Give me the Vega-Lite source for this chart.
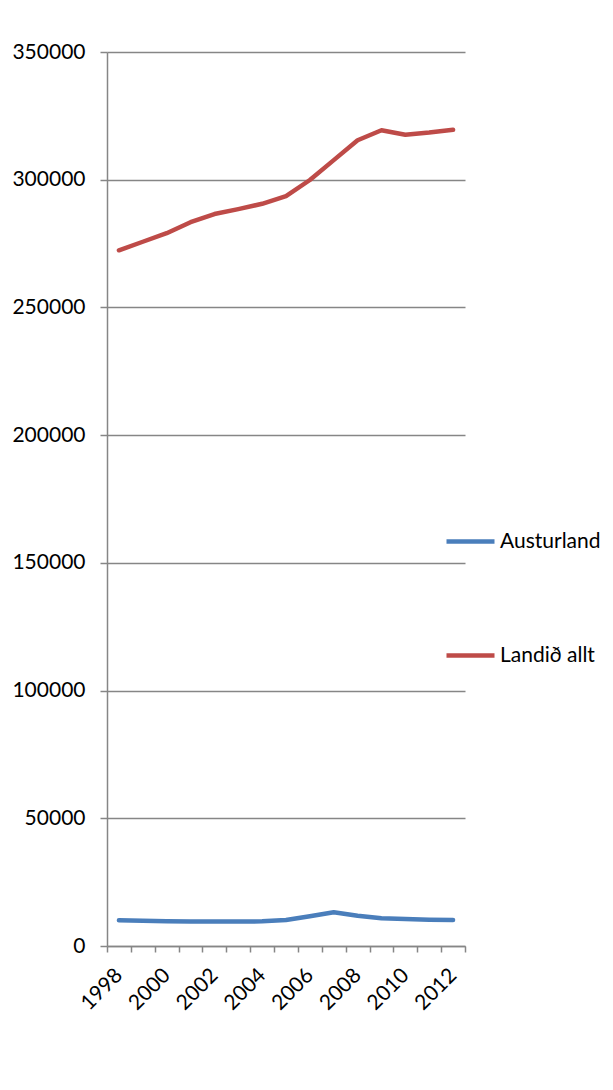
{
  "$schema": "https://vega.github.io/schema/vega-lite/v6.json",
  "autosize": {"type": "none"},
  "padding": {"left": 107, "top": 52, "right": 148, "bottom": 144},
  "width": 358,
  "height": 894,
  "background": "white",
  "config": {
    "font": "Lato",
    "view": {"stroke": null},
    "axis": {"labelFont": "Lato", "labelFontSize": 21, "labelColor": "#000000", "domainColor": "#868686", "tickColor": "#868686", "gridColor": "#868686", "domainWidth": 1.5, "tickWidth": 1.5, "gridWidth": 1.5}
  },
  "data": {"values": [
    {"year": 1998, "series": "Austurland", "value": 10060},
    {"year": 1999, "series": "Austurland", "value": 9850},
    {"year": 2000, "series": "Austurland", "value": 9700},
    {"year": 2001, "series": "Austurland", "value": 9620},
    {"year": 2002, "series": "Austurland", "value": 9550},
    {"year": 2003, "series": "Austurland", "value": 9560},
    {"year": 2004, "series": "Austurland", "value": 9650},
    {"year": 2005, "series": "Austurland", "value": 10180},
    {"year": 2006, "series": "Austurland", "value": 11620},
    {"year": 2007, "series": "Austurland", "value": 13190},
    {"year": 2008, "series": "Austurland", "value": 11870},
    {"year": 2009, "series": "Austurland", "value": 10830},
    {"year": 2010, "series": "Austurland", "value": 10570},
    {"year": 2011, "series": "Austurland", "value": 10300},
    {"year": 2012, "series": "Austurland", "value": 10180},
    {"year": 1998, "series": "Landið allt", "value": 272381},
    {"year": 1999, "series": "Landið allt", "value": 275712},
    {"year": 2000, "series": "Landið allt", "value": 279049},
    {"year": 2001, "series": "Landið allt", "value": 283361},
    {"year": 2002, "series": "Landið allt", "value": 286575},
    {"year": 2003, "series": "Landið allt", "value": 288471},
    {"year": 2004, "series": "Landið allt", "value": 290570},
    {"year": 2005, "series": "Landið allt", "value": 293577},
    {"year": 2006, "series": "Landið allt", "value": 299891},
    {"year": 2007, "series": "Landið allt", "value": 307672},
    {"year": 2008, "series": "Landið allt", "value": 315459},
    {"year": 2009, "series": "Landið allt", "value": 319368},
    {"year": 2010, "series": "Landið allt", "value": 317630},
    {"year": 2011, "series": "Landið allt", "value": 318452},
    {"year": 2012, "series": "Landið allt", "value": 319575}
  ]},
  "mark": {"type": "line", "strokeWidth": 4.5, "strokeCap": "round", "strokeJoin": "round"},
  "encoding": {
    "x": {
      "field": "year", "type": "ordinal", "title": null,
      "scale": {"paddingInner": 0, "paddingOuter": 0},
      "axis": {"labelAngle": -45, "labelAlign": "right", "labelBaseline": "middle", "labelPadding": 20, "tickBand": "extent", "tickSize": 6, "labelOverlap": false, "grid": false,
        "labelExpr": "datum.value % 2 == 0 ? datum.label : ''"}
    },
    "y": {
      "field": "value", "type": "quantitative", "title": null,
      "scale": {"domain": [0, 350000], "nice": false},
      "axis": {"values": [0, 50000, 100000, 150000, 200000, 250000, 300000, 350000], "format": "d", "tickSize": 7, "labelPadding": 15, "grid": true}
    },
    "color": {
      "field": "series", "type": "nominal", "title": null,
      "scale": {"domain": ["Austurland", "Landið allt"], "range": ["#4A7EBB", "#BE4B48"]},
      "legend": {"orient": "none", "legendX": 337, "legendY": 463, "symbolType": "stroke", "symbolSize": 2304, "symbolStrokeWidth": 4.5, "labelFontSize": 21, "labelFont": "Lato", "labelColor": "#000000", "labelOffset": 3, "rowPadding": 77}
    }
  }
}
